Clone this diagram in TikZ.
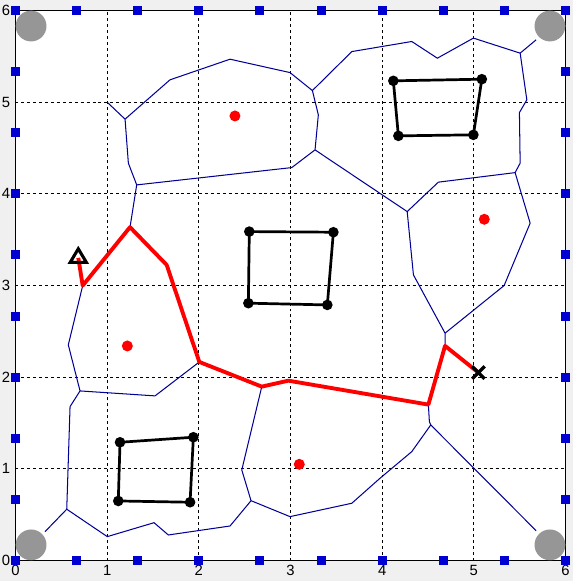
\documentclass[tikz,border=0pt]{standalone}
\usepackage{fontspec}
\setmainfont{Liberation Sans}
\usetikzlibrary{calc}

\definecolor{edgeblue}{RGB}{0,0,150}
\definecolor{markblue}{RGB}{0,0,210}
\definecolor{figgray}{RGB}{240,240,240}
\definecolor{discgray}{RGB}{150,150,150}

\begin{document}
\begin{tikzpicture}[scale=2.5,
    vor/.style={edgeblue, line width=0.8pt},
    route/.style={red, line width=3pt, line join=round},
    wall/.style={black, line width=2.1pt},
    gridline/.style={black, line width=0.65pt, dash pattern=on 2.3pt off 2.3pt},
    ticklab/.style={font=\fontsize{11.5}{13}\selectfont, inner sep=0pt},
    bpt/.style={fill=markblue, inner sep=0pt, minimum size=7pt}]
        \useasboundingbox (-0.169,-0.224) rectangle (6.082,6.114);
        \fill[figgray] (-0.169,-0.224) rectangle (6.082,6.114); % figure
        \fill[white] (0,0) rectangle (6,6); % axes area

        % Grid and axes box
        \foreach \i in {1,...,5} {
            \draw[gridline] (\i,0) -- (\i,6);
            \draw[gridline] (0,\i) -- (6,\i);
        }
        \draw[line width=1.1pt] (0,0) rectangle (6,6);

        % Tick labels
        \foreach \i in {0,...,6} {
            \node[ticklab, anchor=east] (yl\i) at (-0.055,\i) {\i};
            \node[ticklab, anchor=north] (xl\i) at (\i,-0.05) {\i};
        }

        % Corner discs
        \fill[discgray] (0.17,0.17) circle (0.168);
        \fill[discgray] (5.83,0.17) circle (0.168);
        \fill[discgray] (0.17,5.83) circle (0.168);
        \fill[discgray] (5.83,5.83) circle (0.168);

        % Voronoi vertices
        \coordinate (v1) at (1.000,4.998);
        \coordinate (v2) at (1.195,4.813);
        \coordinate (v3) at (1.685,5.242);
        \coordinate (v4) at (2.340,5.467);
        \coordinate (v5) at (2.994,5.321);
        \coordinate (v6) at (3.238,5.125);
        \coordinate (v7) at (3.668,5.550);
        \coordinate (v8) at (4.322,5.660);
        \coordinate (v9) at (4.601,5.478);
        \coordinate (v10) at (4.994,5.697);
        \coordinate (v11) at (5.504,5.533);
        \coordinate (v12) at (5.678,5.678);
        \coordinate (v13) at (5.577,5.024);
        \coordinate (v14) at (5.496,4.885);
        \coordinate (v15) at (5.504,4.333);
        \coordinate (v16) at (5.449,4.230);
        \coordinate (v17) at (4.612,4.126);
        \coordinate (v18) at (4.272,3.805);
        \coordinate (v19) at (3.267,4.478);
        \coordinate (v20) at (3.303,4.860);
        \coordinate (v21) at (3.013,4.285);
        \coordinate (v22) at (1.322,4.096);
        \coordinate (v23) at (1.231,4.333);
        \coordinate (v24) at (1.249,3.635);
        \coordinate (v25) at (4.340,3.115);
        \coordinate (v26) at (4.685,2.479);
        \coordinate (v27) at (5.613,3.679);
        \coordinate (v28) at (5.329,2.998);
        \coordinate (v29) at (4.685,2.340);
        \coordinate (v30) at (4.503,1.700);
        \coordinate (v31) at (4.514,1.514);
        \coordinate (v32) at (4.529,1.478);
        \coordinate (v33) at (4.322,1.187);
        \coordinate (v34) at (3.976,0.897);
        \coordinate (v35) at (3.668,0.624);
        \coordinate (v36) at (2.994,0.478);
        \coordinate (v37) at (2.569,0.652);
        \coordinate (v38) at (2.468,0.987);
        \coordinate (v39) at (2.686,1.896);
        \coordinate (v40) at (2.976,1.961);
        \coordinate (v41) at (2.340,0.376);
        \coordinate (v43) at (1.667,0.278);
        \coordinate (v44) at (1.511,0.412);
        \coordinate (v45) at (1.001,0.260);
        \coordinate (v46) at (0.559,0.559);
        \coordinate (v47) at (0.322,0.314);
        \coordinate (v48) at (0.595,1.678);
        \coordinate (v49) at (0.704,1.849);
        \coordinate (v50) at (1.522,1.795);
        \coordinate (v51) at (2.005,2.165);
        \coordinate (v52) at (0.576,2.351);
        \coordinate (v53) at (0.733,2.998);
        \coordinate (v54) at (1.649,3.223);
        \coordinate (v55) at (5.678,0.325);

        % Voronoi edges
        \draw[vor] (v1) -- (v2) -- (v3) -- (v4) -- (v5) -- (v6) -- (v20) -- (v19) -- (v21) -- (v22) -- (v23) -- (v2);
        \draw[vor] (v6) -- (v7) -- (v8) -- (v9) -- (v10) -- (v11) -- (v12);
        \draw[vor] (v11) -- (v13) -- (v14) -- (v15) -- (v16) -- (v17) -- (v18) -- (v19);
        \draw[vor] (v22) -- (v24) -- (v53) -- (v52) -- (v49) -- (v48) -- (v46) -- (v47);
        \draw[vor] (v24) -- (v54) -- (v51) -- (v50) -- (v49);
        \draw[vor] (v51) -- (v39) -- (v40) -- (v30) -- (v29) -- (v26) -- (v25) -- (v18);
        \draw[vor] (v16) -- (v27) -- (v28) -- (v26);
        \draw[vor] (v30) -- (v31) -- (v32) -- (v55);
        \draw[vor] (v32) -- (v33) -- (v34) -- (v35) -- (v36) -- (v37) -- (v38) -- (v39);
        \draw[vor] (v37) -- (v41) -- (v43) -- (v44) -- (v45) -- (v46);

        % Sites
        \fill[red] (2.394,4.849) circle (0.06);
        \fill[red] (5.114,3.722) circle (0.06);
        \fill[red] (1.220,2.340) circle (0.06);
        \fill[red] (3.096,1.049) circle (0.06);

        % Obstacles
        \coordinate (a1) at (4.121,5.231);
        \coordinate (a2) at (5.086,5.249);
        \coordinate (a3) at (4.994,4.642);
        \coordinate (a4) at (4.176,4.631);
        \coordinate (b1) at (2.550,3.587);
        \coordinate (b2) at (3.467,3.580);
        \coordinate (b3) at (3.401,2.787);
        \coordinate (b4) at (2.540,2.806);
        \coordinate (c1) at (1.140,1.289);
        \coordinate (c2) at (1.940,1.344);
        \coordinate (c3) at (1.904,0.635);
        \coordinate (c4) at (1.121,0.649);
        \draw[wall] (a1) -- (a2) -- (a3) -- (a4) -- cycle;
        \draw[wall] (b1) -- (b2) -- (b3) -- (b4) -- cycle;
        \draw[wall] (c1) -- (c2) -- (c3) -- (c4) -- cycle;
        \foreach \p in {a1,a2,a3,a4,b1,b2,b3,b4,c1,c2,c3,c4}
            \fill[black] (\p) circle (0.058);

        % Route from start to goal
        \coordinate (start) at (0.685,3.300);
        \coordinate (goal) at (5.049,2.049);
        \draw[route] (start) -- (v53) -- (v24) -- (v54) -- (v51) -- (v39) -- (v40) -- (v30) -- (v29) -- (goal);
        \draw[black, line width=2.4pt, line join=miter] (0.685,3.400) -- (0.597,3.252) -- (0.773,3.252) -- cycle; % start
        \draw[black, line width=2.6pt] ($(goal)+(-0.068,-0.068)$) -- ($(goal)+(0.068,0.068)$); % goal
        \draw[black, line width=2.6pt] ($(goal)+(-0.068,0.068)$) -- ($(goal)+(0.068,-0.068)$);

        % Boundary points
        \foreach \k in {0,...,9} {
            \pgfmathsetmacro{\q}{\k*2/3}
            \node[bpt] (bb\k) at (\q,0) {};
            \node[bpt] (bt\k) at (\q,6) {};
            \node[bpt] (bl\k) at (0,\q) {};
            \node[bpt] (br\k) at (6,\q) {};
        }
    \end{tikzpicture}
\end{document}
